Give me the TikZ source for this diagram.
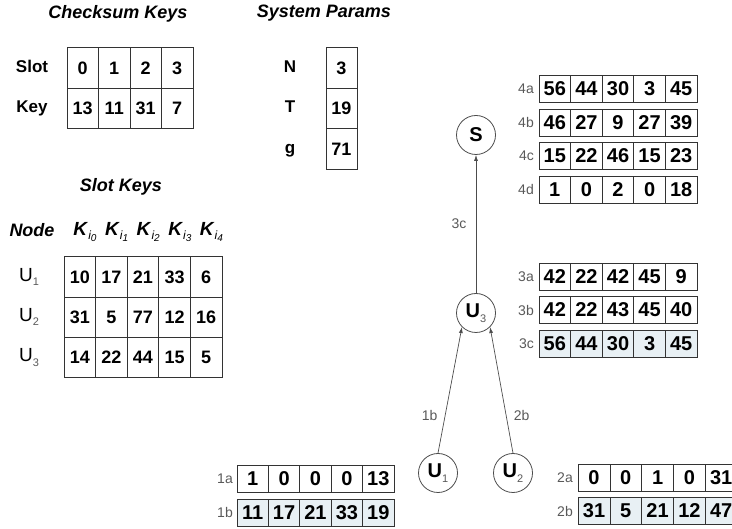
\documentclass[tikz,border=0pt]{standalone}
\usepackage{fontspec}
\setmainfont{Liberation Sans}
\usepackage{xcolor}
\usetikzlibrary{arrows.meta,positioning,calc}
\definecolor{lineg}{gray}{0.3}
\definecolor{labg}{gray}{0.35}
\definecolor{tintb}{rgb}{0.91,0.94,0.955}
\newcommand{\fs}[1]{\fontsize{#1}{#1}\selectfont}
\newcommand{\usub}[1]{U\raisebox{-0.45ex}{\fs{11}\mdseries\color{labg}#1}}
\newcommand{\ksub}[1]{\textbf{\textit{K}}\raisebox{-0.45ex}{\fs{12}\itshape i\raisebox{-0.35ex}{\fs{10}#1}}}
% one row of table cells: name, first x, pitch, y, style, values
\newcommand{\cellrow}[6]{%
  \foreach \v [count=\i] in {#6}
    \node[#5] (#1-\i) at ({#2+(\i-1)*#3},#4) {\v};}
\tikzset{
  cell/.style={draw=black!80,line width=0.8pt,inner sep=0pt,anchor=center,
    font=\fs{18}\bfseries},
  lcell/.style={cell,minimum width=31.5pt,minimum height=40.5pt},
  rcell/.style={cell,minimum width=31.6pt,minimum height=27pt,font=\fs{20}\bfseries},
  tcell/.style={rcell,fill=tintb},
  ttl/.style={font=\fs{18}\bfseries\itshape},
  rlab/.style={font=\fs{17}\bfseries,text height=12pt,text depth=3.5pt},
  slab/.style={font=\fs{14},text=labg,anchor=east,inner sep=1pt},
  party/.style={circle,draw=lineg,line width=0.8pt,minimum size=39pt,inner sep=0pt,
    font=\fs{20}\bfseries},
  msg/.style={-{Latex[length=6pt,width=4pt]},draw=lineg,line width=0.7pt},
}
\begin{document}
\begin{tikzpicture}[x=1pt,y=-1pt]
\useasboundingbox (0,0) rectangle (732,529);
% checksum keys
\node[ttl] (cktitle) at (118,14) {Checksum Keys};
\node[rlab] (slotlab) at (32,68) {Slot};
\node[rlab] (keylab) at (32,108.5) {Key};
\cellrow{slot}{82.75}{31.5}{68}{lcell}{0,1,2,3}
\cellrow{ckey}{82.75}{31.5}{108.5}{lcell}{13,11,31,7}
% system parameters
\node[ttl] (sptitle) at (324,13) {System Params};
\node[rlab] (nlab) at (290,68) {N};
\node[rlab] (tlab) at (290,108.5) {T};
\node[rlab] (glab) at (290,149) {g};
\node[lcell,minimum width=31pt] (pn) at (341.5,68) {3};
\node[lcell,minimum width=31pt] (pt) at (341.5,108.5) {19};
\node[lcell,minimum width=31pt] (pg) at (341.5,149) {71};
% slot keys per node
\node[ttl] (sktitle) at (121,187) {Slot Keys};
\node[ttl] (nodelab) at (32,230) {Node};
\foreach \k [count=\i] in {0,1,2,3,4}
  \node[font=\fs{19}] (kh-\i) at ({85+(\i-1)*31.6},232) {\ksub{\k}};
\node[font=\fs{19}] (u1lab) at (29,277) {\usub{1}};
\node[font=\fs{19}] (u2lab) at (29,317) {\usub{2}};
\node[font=\fs{19}] (u3lab) at (29,357.5) {\usub{3}};
\cellrow{sk1}{79.8}{31.6}{277}{lcell,minimum width=31.6pt}{10,17,21,33,6}
\cellrow{sk2}{79.8}{31.6}{317.3}{lcell,minimum width=31.6pt}{31,5,77,12,16}
\cellrow{sk3}{79.8}{31.6}{357.6}{lcell,minimum width=31.6pt}{14,22,44,15,5}
% aggregation tree
\node[party] (s) at (476,135) {S};
\node[party] (u3) at (476,313) {\usub{3}};
\node[party] (u1) at (438,473) {\usub{1}};
\node[party] (u2) at (513,473) {\usub{2}};
\draw[msg] (u3.north) -- node[midway,left=6pt,font=\fs{14},text=labg]{3c} (s.south);
\draw[msg] (u1.north) -- node[pos=0.3,left=4pt,font=\fs{14},text=labg]{1b} (u3.south west);
\draw[msg] (u2.north) -- node[pos=0.3,right=4pt,font=\fs{14},text=labg]{2b} (u3.south east);
% sink side values
\node[slab] (l4a) at (535,88.5) {4a};
\node[slab] (l4b) at (535,122.5) {4b};
\node[slab] (l4c) at (535,156) {4c};
\node[slab] (l4d) at (535,189.5) {4d};
\cellrow{r4a}{554.8}{31.6}{88.5}{rcell}{56,44,30,3,45}
\cellrow{r4b}{554.8}{31.6}{122.5}{rcell}{46,27,9,27,39}
\cellrow{r4c}{554.8}{31.6}{156}{rcell}{15,22,46,15,23}
\cellrow{r4d}{554.8}{31.6}{189.5}{rcell}{1,0,2,0,18}
% U3 values
\node[slab] (l3a) at (535,276.5) {3a};
\node[slab] (l3b) at (535,310) {3b};
\node[slab] (l3c) at (535,344) {3c};
\cellrow{r3a}{554.8}{31.6}{276.5}{rcell}{42,22,42,45,9}
\cellrow{r3b}{554.8}{31.6}{310}{rcell}{42,22,43,45,40}
\cellrow{r3c}{554.8}{31.6}{344}{tcell}{56,44,30,3,45}
% leaf values
\node[slab] (l1a) at (234,478.5) {1a};
\node[slab] (l1b) at (234,512.5) {1b};
\cellrow{r1a}{252.7}{31.4}{478.5}{rcell,minimum width=31.4pt}{1,0,0,0,13}
\cellrow{r1b}{252.7}{31.4}{512.5}{tcell,minimum width=31.4pt}{11,17,21,33,19}
\node[slab] (l2a) at (574,478) {2a};
\node[slab] (l2b) at (574,511) {2b};
\cellrow{r2a}{594}{31.8}{478}{rcell,minimum width=31.8pt}{0,0,1,0,31}
\cellrow{r2b}{594}{31.8}{511}{tcell,minimum width=31.8pt}{31,5,21,12,47}
\end{tikzpicture}
\end{document}
